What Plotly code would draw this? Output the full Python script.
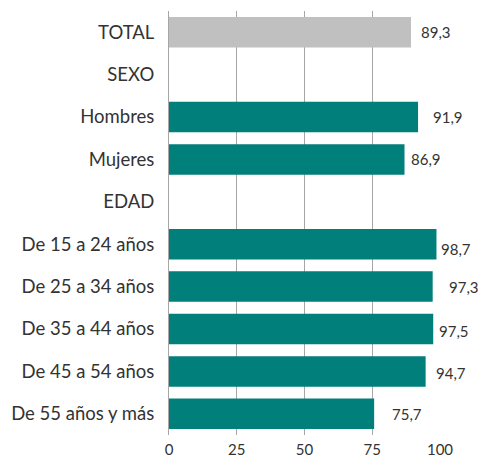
import plotly.graph_objects as go

# Categories, top to bottom
categorias = ["TOTAL", "SEXO", "Hombres", "Mujeres", "EDAD",
              "De 15 a 24 años", "De 25 a 34 años", "De 35 a 44 años",
              "De 45 a 54 años", "De 55 años y más"]
valores = [89.3, None, 91.9, 86.9, None, 98.7, 97.3, 97.5, 94.7, 75.7]
ticks = [0, 25, 50, 75, 100]

TEAL = "#007f7b"
GRIS = "#c0c0c0"
colores = [GRIS if c == "TOTAL" else TEAL for c in categorias]

# label nudges (pixels) for each value label
dx = [8, 24, 13, 4, 0, 3, 14, 4, 8, 16]
dy = [0, 0, 0, 0, 0, -5, 0, -2, -2, 0]

fig = go.Figure()
fig.add_trace(go.Bar(
    y=categorias,
    x=[v if v is not None else 0 for v in valores],
    orientation="h",
    marker=dict(color=colores, line=dict(width=0)),
    width=0.72,
    hoverinfo="skip",
))

for c, v, ox, oy in zip(categorias, valores, dx, dy):
    if v is None:
        continue
    fig.add_annotation(
        x=v, y=c, xref="x", yref="y",
        text=f"{v:.1f}".replace(".", ","),
        showarrow=False, xanchor="left", yanchor="middle",
        xshift=ox, yshift=oy,
        font=dict(family="Lato, sans-serif", size=15, color="#333333"),
    )

fig.update_layout(
    width=478, height=460,
    margin=dict(l=169, r=38, t=11, b=25),
    paper_bgcolor="white", plot_bgcolor="white",
    showlegend=False,
    font=dict(family="Lato, sans-serif", color="#333333"),
    bargap=0.28,
)
fig.update_xaxes(
    range=[0, 100], tickvals=ticks, ticktext=[str(t) for t in ticks],
    showgrid=True, gridcolor="#a6a6a6", gridwidth=1,
    zeroline=False, showline=False, ticks="",
    ticklabelstandoff=4, automargin=False,
    tickfont=dict(size=15, color="#333333"),
    fixedrange=True,
)
fig.update_yaxes(
    categoryorder="array", categoryarray=categorias,
    autorange="reversed", showgrid=False, zeroline=False,
    showline=True, linecolor="#a6a6a6", linewidth=1,
    ticks="", ticklabelstandoff=10, automargin=False,
    tickfont=dict(size=18.5, color="#333333"),
    fixedrange=True,
)

fig.write_html("out.html")
